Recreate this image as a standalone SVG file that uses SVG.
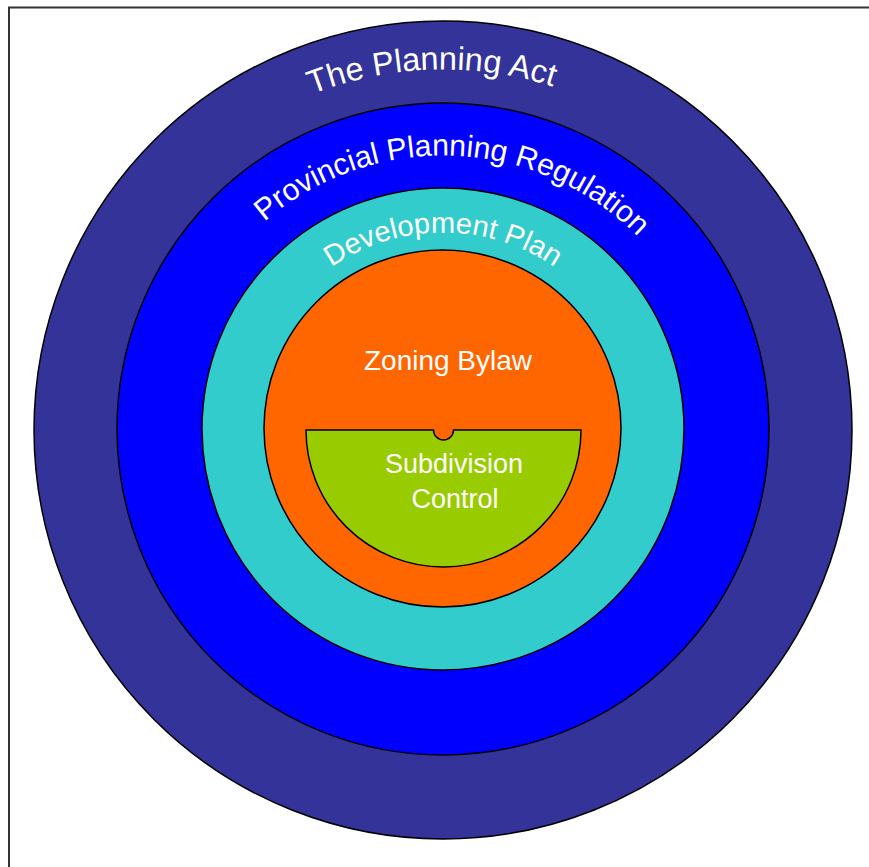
<svg xmlns="http://www.w3.org/2000/svg" xmlns:xlink="http://www.w3.org/1999/xlink" width="869" height="867" viewBox="0 0 869 867">
<style>
.ring{stroke:#000;stroke-width:1.5}
.lbl{fill:#fff;font-family:"Liberation Sans",Arial,sans-serif;font-size:28px}
</style>
<defs>
<path id="arcAct" d="M83,429.5 A360,360 0 0 1 803,429.5"/>
<path id="arcReg" d="M169,429.5 A274,274 0 0 1 717,429.5"/>
<path id="arcDev" d="M246,429.5 A197,197 0 0 1 640,429.5"/>
</defs>
<rect x="9" y="7.5" width="900" height="900" fill="#fff" stroke="#333" stroke-width="2"/>
<g id="planning-act">
<circle class="ring" cx="443" cy="430" r="409" fill="#333399"/>
<text class="lbl" style="font-size:32.5px" text-anchor="middle" transform="rotate(-1.8 443 429.5)"><textPath xlink:href="#arcAct" href="#arcAct" startOffset="50%">The Planning Act</textPath></text>
</g>
<g id="provincial-regulation">
<circle class="ring" cx="443" cy="429" r="326" fill="#0000FF"/>
<text class="lbl" style="font-size:30.3px" text-anchor="middle" transform="rotate(2.3 443 429.5)"><textPath xlink:href="#arcReg" href="#arcReg" startOffset="50%">Provincial Planning Regulation</textPath></text>
</g>
<g id="development-plan">
<circle class="ring" cx="443" cy="429" r="241" fill="#33CCCC"/>
<text class="lbl" style="font-size:29px" text-anchor="middle" transform="rotate(0 443 429.5)"><textPath xlink:href="#arcDev" href="#arcDev" startOffset="50%">Development Plan</textPath></text>
</g>
<g id="zoning-bylaw">
<circle class="ring" cx="442.5" cy="428.5" r="178.5" fill="#FF6600"/>
<text class="lbl" x="448" y="370" text-anchor="middle">Zoning Bylaw</text>
</g>
<g id="subdivision-control">
<path class="ring" d="M306,430 L433.5,430 A10,10 0 0 0 453.5,430 L581,430 A137.5,137 0 0 1 306,430 Z" fill="#99CC00"/>
<text class="lbl" style="font-size:27px" x="454" y="473" text-anchor="middle">Subdivision</text>
<text class="lbl" style="font-size:27px" x="455" y="508" text-anchor="middle">Control</text>
</g>
<g id="connectors"/>
</svg>
